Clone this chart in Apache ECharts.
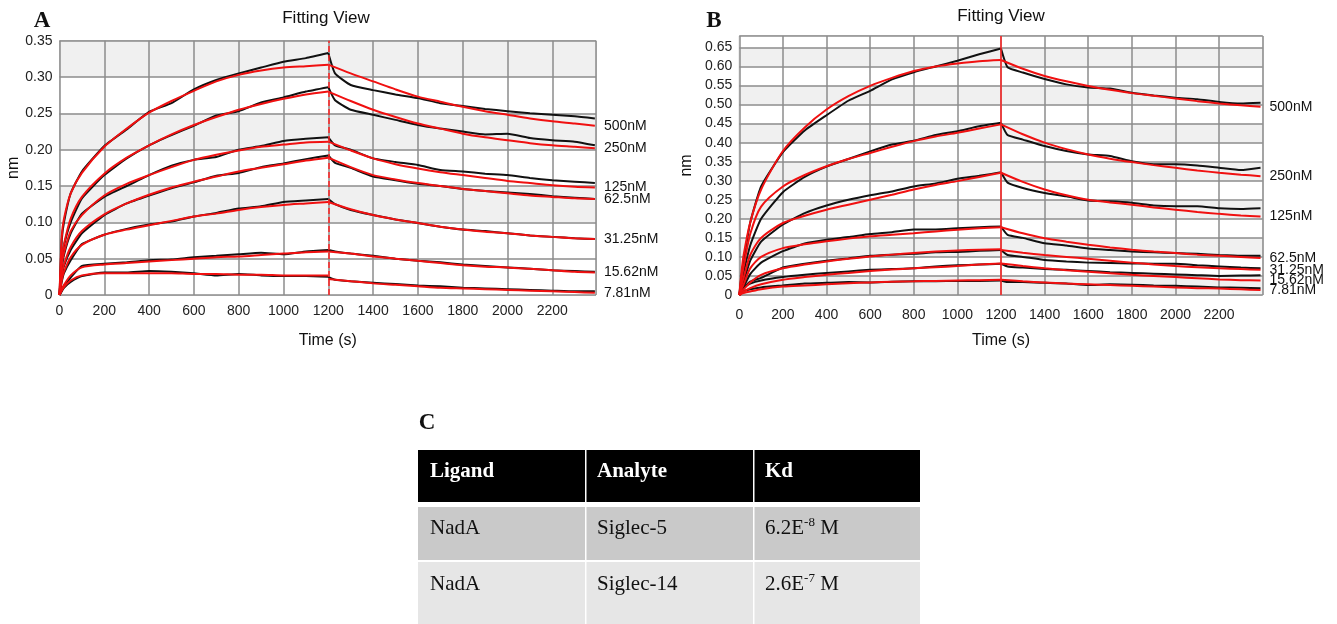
<!DOCTYPE html>
<html>
<head>
<meta charset="utf-8">
<script src="https://cdn.jsdelivr.net/npm/echarts@6/dist/echarts.min.js"></script>
<style>
  html, body { margin: 0; padding: 0; background: #fff; }
  #chart { width: 1337px; height: 624px; }
</style>
</head>
<body>
<div id="chart"></div>
<script>
// time grids (s)
const timeAssoc = [0, 10, 20, 50, 100, 200, 300, 400, 500, 600, 700, 800, 900, 1000, 1100, 1200];
const timeDissFit = [1200, 1300, 1400, 1500, 1600, 1700, 1800, 1900, 2000, 2100, 2200, 2300, 2390];
const timeDissRaw = [1200, 1230, 1300, 1400, 1500, 1600, 1700, 1800, 1900, 2000, 2100, 2200, 2300, 2390];

const concLabels = ['500nM', '250nM', '125nM', '62.5nM', '31.25nM', '15.62nM', '7.81nM'];

// panel A (nm)
const aRawAssoc = [
  [0, 0.075, 0.100, 0.140, 0.170, 0.205, 0.228, 0.252, 0.264, 0.283, 0.296, 0.305, 0.313, 0.321, 0.326, 0.333],
  [0, 0.045, 0.068, 0.100, 0.133, 0.165, 0.188, 0.206, 0.220, 0.233, 0.247, 0.253, 0.265, 0.272, 0.280, 0.286],
  [0, 0.035, 0.055, 0.085, 0.112, 0.135, 0.150, 0.165, 0.178, 0.186, 0.190, 0.200, 0.205, 0.212, 0.215, 0.217],
  [0, 0.025, 0.040, 0.062, 0.085, 0.110, 0.126, 0.137, 0.147, 0.155, 0.164, 0.168, 0.176, 0.181, 0.187, 0.192],
  [0, 0.018, 0.030, 0.048, 0.070, 0.083, 0.091, 0.097, 0.101, 0.108, 0.113, 0.119, 0.122, 0.128, 0.130, 0.132],
  [0, 0.006, 0.012, 0.024, 0.040, 0.043, 0.045, 0.048, 0.049, 0.052, 0.054, 0.056, 0.058, 0.056, 0.060, 0.062],
  [0, 0.005, 0.010, 0.018, 0.026, 0.031, 0.031, 0.033, 0.032, 0.030, 0.027, 0.029, 0.027, 0.026, 0.026, 0.025]
];
const aRawDiss = [
  [0.333, 0.305, 0.289, 0.282, 0.276, 0.271, 0.264, 0.260, 0.256, 0.253, 0.250, 0.248, 0.246, 0.243],
  [0.286, 0.268, 0.255, 0.248, 0.241, 0.234, 0.229, 0.225, 0.221, 0.222, 0.216, 0.213, 0.211, 0.206],
  [0.217, 0.206, 0.200, 0.188, 0.183, 0.179, 0.172, 0.170, 0.167, 0.165, 0.161, 0.158, 0.156, 0.154],
  [0.192, 0.182, 0.175, 0.163, 0.158, 0.153, 0.150, 0.146, 0.143, 0.141, 0.139, 0.136, 0.134, 0.132],
  [0.132, 0.125, 0.117, 0.110, 0.104, 0.099, 0.094, 0.090, 0.088, 0.085, 0.082, 0.080, 0.078, 0.077],
  [0.062, 0.060, 0.057, 0.054, 0.050, 0.047, 0.045, 0.042, 0.040, 0.038, 0.036, 0.034, 0.033, 0.032],
  [0.025, 0.021, 0.019, 0.017, 0.015, 0.013, 0.012, 0.010, 0.009, 0.008, 0.007, 0.006, 0.005, 0.005]
];
const aFitAssoc = [
  [0, 0.080, 0.105, 0.140, 0.168, 0.204, 0.229, 0.251, 0.267, 0.281, 0.294, 0.303, 0.309, 0.313, 0.315, 0.317],
  [0, 0.050, 0.070, 0.105, 0.135, 0.167, 0.189, 0.206, 0.221, 0.234, 0.245, 0.255, 0.263, 0.270, 0.276, 0.280],
  [0, 0.040, 0.058, 0.088, 0.110, 0.137, 0.153, 0.165, 0.176, 0.186, 0.193, 0.199, 0.204, 0.207, 0.210, 0.211],
  [0, 0.028, 0.042, 0.066, 0.088, 0.111, 0.126, 0.138, 0.148, 0.156, 0.163, 0.170, 0.175, 0.180, 0.185, 0.189],
  [0, 0.020, 0.032, 0.052, 0.069, 0.083, 0.090, 0.096, 0.102, 0.108, 0.112, 0.117, 0.121, 0.124, 0.126, 0.128],
  [0, 0.008, 0.014, 0.027, 0.038, 0.042, 0.044, 0.046, 0.048, 0.050, 0.052, 0.053, 0.055, 0.057, 0.059, 0.060],
  [0, 0.006, 0.011, 0.020, 0.027, 0.030, 0.030, 0.030, 0.030, 0.029, 0.029, 0.028, 0.028, 0.027, 0.027, 0.027]
];
const aFitDiss = [
  [0.317, 0.305, 0.294, 0.283, 0.273, 0.266, 0.259, 0.253, 0.248, 0.243, 0.239, 0.236, 0.233],
  [0.280, 0.267, 0.255, 0.245, 0.236, 0.229, 0.222, 0.217, 0.213, 0.209, 0.206, 0.204, 0.202],
  [0.211, 0.199, 0.188, 0.180, 0.174, 0.169, 0.165, 0.161, 0.157, 0.154, 0.151, 0.149, 0.148],
  [0.189, 0.176, 0.165, 0.159, 0.154, 0.150, 0.146, 0.143, 0.140, 0.137, 0.135, 0.133, 0.132],
  [0.128, 0.118, 0.110, 0.104, 0.099, 0.094, 0.090, 0.087, 0.085, 0.082, 0.080, 0.078, 0.077],
  [0.060, 0.057, 0.053, 0.050, 0.047, 0.044, 0.041, 0.039, 0.038, 0.036, 0.034, 0.032, 0.031],
  [0.022, 0.019, 0.016, 0.014, 0.012, 0.010, 0.009, 0.008, 0.007, 0.006, 0.005, 0.004, 0.003]
];

// panel B (nm)
const bRawAssoc = [
  [0, 0.050, 0.090, 0.190, 0.285, 0.375, 0.432, 0.472, 0.510, 0.536, 0.566, 0.585, 0.600, 0.615, 0.632, 0.647],
  [0, 0.030, 0.060, 0.130, 0.200, 0.270, 0.310, 0.337, 0.357, 0.377, 0.395, 0.405, 0.420, 0.430, 0.443, 0.452],
  [0, 0.020, 0.035, 0.090, 0.140, 0.185, 0.215, 0.235, 0.250, 0.262, 0.272, 0.285, 0.293, 0.305, 0.313, 0.322],
  [0, 0.012, 0.022, 0.055, 0.085, 0.115, 0.135, 0.145, 0.152, 0.160, 0.165, 0.172, 0.172, 0.175, 0.178, 0.180],
  [0, 0.010, 0.018, 0.035, 0.045, 0.072, 0.082, 0.090, 0.096, 0.103, 0.106, 0.108, 0.112, 0.113, 0.116, 0.118],
  [0, 0.010, 0.020, 0.030, 0.038, 0.047, 0.053, 0.058, 0.062, 0.066, 0.068, 0.070, 0.075, 0.078, 0.080, 0.082],
  [0, 0.005, 0.010, 0.015, 0.020, 0.025, 0.030, 0.032, 0.034, 0.033, 0.035, 0.036, 0.036, 0.037, 0.037, 0.038]
];
const bRawDiss = [
  [0.647, 0.598, 0.584, 0.567, 0.553, 0.545, 0.542, 0.531, 0.524, 0.518, 0.514, 0.507, 0.503, 0.505],
  [0.452, 0.420, 0.408, 0.391, 0.378, 0.369, 0.365, 0.351, 0.343, 0.343, 0.340, 0.334, 0.328, 0.334],
  [0.322, 0.295, 0.281, 0.268, 0.259, 0.248, 0.246, 0.242, 0.235, 0.233, 0.233, 0.228, 0.226, 0.228],
  [0.180, 0.158, 0.150, 0.136, 0.130, 0.122, 0.118, 0.114, 0.112, 0.110, 0.108, 0.105, 0.103, 0.103],
  [0.118, 0.105, 0.100, 0.092, 0.088, 0.085, 0.084, 0.083, 0.082, 0.082, 0.078, 0.075, 0.072, 0.070],
  [0.082, 0.075, 0.072, 0.068, 0.066, 0.063, 0.060, 0.058, 0.056, 0.054, 0.052, 0.050, 0.051, 0.052],
  [0.038, 0.034, 0.034, 0.032, 0.030, 0.026, 0.028, 0.027, 0.025, 0.024, 0.022, 0.020, 0.019, 0.018]
];
const bFitAssoc = [
  [0, 0.060, 0.105, 0.190, 0.277, 0.378, 0.440, 0.487, 0.522, 0.549, 0.570, 0.588, 0.600, 0.608, 0.614, 0.617],
  [0, 0.040, 0.075, 0.160, 0.232, 0.285, 0.315, 0.338, 0.357, 0.373, 0.389, 0.404, 0.416, 0.426, 0.437, 0.448],
  [0, 0.025, 0.045, 0.105, 0.150, 0.189, 0.208, 0.224, 0.237, 0.250, 0.263, 0.277, 0.289, 0.299, 0.310, 0.321],
  [0, 0.015, 0.028, 0.070, 0.100, 0.123, 0.133, 0.141, 0.148, 0.154, 0.158, 0.162, 0.167, 0.171, 0.175, 0.178],
  [0, 0.008, 0.015, 0.033, 0.053, 0.070, 0.080, 0.088, 0.095, 0.101, 0.106, 0.110, 0.114, 0.117, 0.119, 0.120],
  [0, 0.005, 0.009, 0.018, 0.028, 0.040, 0.047, 0.053, 0.058, 0.063, 0.067, 0.070, 0.073, 0.076, 0.080, 0.083],
  [0, 0.003, 0.005, 0.009, 0.015, 0.022, 0.025, 0.028, 0.031, 0.033, 0.035, 0.036, 0.037, 0.038, 0.039, 0.040]
];
const bFitDiss = [
  [0.617, 0.594, 0.575, 0.561, 0.549, 0.539, 0.530, 0.523, 0.516, 0.509, 0.503, 0.498, 0.494],
  [0.448, 0.422, 0.400, 0.383, 0.369, 0.358, 0.349, 0.341, 0.334, 0.327, 0.321, 0.316, 0.312],
  [0.321, 0.297, 0.277, 0.262, 0.250, 0.243, 0.237, 0.230, 0.224, 0.218, 0.213, 0.209, 0.206],
  [0.178, 0.162, 0.149, 0.140, 0.132, 0.125, 0.119, 0.114, 0.110, 0.106, 0.103, 0.100, 0.097],
  [0.118, 0.111, 0.105, 0.100, 0.095, 0.090, 0.085, 0.080, 0.076, 0.073, 0.070, 0.068, 0.066],
  [0.083, 0.076, 0.070, 0.065, 0.061, 0.057, 0.053, 0.050, 0.047, 0.044, 0.041, 0.039, 0.038],
  [0.040, 0.036, 0.033, 0.030, 0.028, 0.026, 0.024, 0.022, 0.020, 0.018, 0.017, 0.015, 0.013]
];

// table C
const tableHeader = ['Ligand', 'Analyte', 'Kd'];
const ligands = ['NadA', 'NadA'];
const analytes = ['Siglec-5', 'Siglec-14'];
const kdMantissa = ['6.2E', '2.6E'];
const kdExponent = ['-8', '-7'];

const sans = 'Liberation Sans, Arial, sans-serif';
const serif = 'Liberation Serif, Times New Roman, serif';

const chart = echarts.init(document.getElementById('chart'));

function pairs(times, vals) {
  return times.map((t, i) => [t, vals[i]]);
}

function line(idx, times, vals, color, extra) {
  return Object.assign({
    type: 'line',
    xAxisIndex: idx,
    yAxisIndex: idx,
    data: pairs(times, vals),
    symbol: 'none',
    showSymbol: false,
    silent: true,
    smooth: 0.25,
    lineStyle: { color: color, width: 2 },
    itemStyle: { color: color }
  }, extra || {});
}

function panelSeries(idx, rawA, rawD, fitA, fitD, dashType) {
  const out = [];
  for (let i = 0; i < concLabels.length; i++) {
    out.push(line(idx, timeAssoc, rawA[i], '#111', { smooth: 0.15 }));
    out.push(line(idx, timeDissRaw, rawD[i], '#111', { smooth: 0.15 }));
  }
  for (let i = 0; i < concLabels.length; i++) {
    const a = line(idx, timeAssoc, fitA[i], '#f01010');
    if (i === 0) {
      a.markLine = {
        silent: true,
        symbol: ['none', 'none'],
        label: { show: false },
        lineStyle: { color: '#ff2020', type: dashType, width: 1.5 },
        data: [{ xAxis: 1200 }]
      };
    }
    out.push(a);
    out.push(line(idx, timeDissFit, fitD[i], '#f01010', {
      endLabel: {
        show: true,
        formatter: concLabels[i],
        distance: 9,
        color: '#111',
        fontSize: 14,
        fontFamily: sans
      }
    }));
  }
  return out;
}

function xAx(idx, max, margin) {
  return {
    type: 'value', gridIndex: idx, min: 0, max: max, interval: 200,
    name: 'Time (s)', nameLocation: 'middle', nameGap: 38,
    nameTextStyle: { fontSize: 16, color: '#111', fontFamily: sans },
    axisLine: { show: false }, axisTick: { show: false },
    axisLabel: { fontSize: 14, color: '#222', fontFamily: sans, margin: margin, showMaxLabel: false, formatter: v => String(v) },
    splitLine: { show: true, lineStyle: { color: '#8c8c8c', width: 1.5 } }
  };
}

function yAx(idx, max, gap, areaColors) {
  return {
    type: 'value', gridIndex: idx, min: 0, max: max, interval: 0.05,
    name: 'nm', nameLocation: 'middle', nameGap: gap, nameRotate: 90,
    nameTextStyle: { fontSize: 16, color: '#111', fontFamily: sans },
    axisLine: { show: false }, axisTick: { show: false },
    axisLabel: {
      fontSize: 14, color: '#222', fontFamily: sans, margin: 7, showMaxLabel: max === 0.35,
      formatter: v => (v === 0 ? '0' : v.toFixed(2))
    },
    splitLine: { show: true, lineStyle: { color: '#8c8c8c', width: 1.5 } },
    splitArea: { show: true, areaStyle: { color: areaColors } }
  };
}

// table graphics
const colX = [418, 585, 753, 920];
const rowY = [450, 507, 562];
const rowH = [52, 53, 62];
const rowFill = ['#000', '#c9c9c9', '#e6e6e6'];
const tableGraphic = [];
for (let r = 0; r < 3; r++) {
  for (let c = 0; c < 3; c++) {
    tableGraphic.push({
      type: 'rect',
      shape: { x: colX[c] + (c ? 1.5 : 0), y: rowY[r], width: colX[c + 1] - colX[c] - (c ? 1.5 : 0), height: rowH[r] },
      style: { fill: rowFill[r] }
    });
  }
}
tableHeader.forEach((h, c) => {
  tableGraphic.push({
    type: 'text', x: colX[c] + 12, y: rowY[0] + 22,
    style: { text: h, fill: '#fff', font: 'bold 21px ' + serif, textVerticalAlign: 'middle' }
  });
});
for (let r = 0; r < 2; r++) {
  const cy = [528, 584][r];
  [ligands[r], analytes[r]].forEach((t, c) => {
    tableGraphic.push({
      type: 'text', x: colX[c] + 12, y: cy,
      style: { text: t, fill: '#111', font: '21px ' + serif, textVerticalAlign: 'middle' }
    });
  });
  tableGraphic.push({
    type: 'text', x: colX[2] + 12, y: cy,
    style: {
      text: '{m|' + kdMantissa[r] + '}{e|' + kdExponent[r] + '}{m| M}',
      fill: '#111', textVerticalAlign: 'middle',
      rich: {
        m: { fontSize: 21, fontFamily: serif, color: '#111', lineHeight: 24 },
        e: { fontSize: 13, fontFamily: serif, color: '#111', lineHeight: 24, verticalAlign: 'top', padding: [0, 0, 8, 0] }
      }
    }
  });
}

const option = {
  animation: false,
  grid: [
    { left: 59.5, top: 40.7, width: 536.5, height: 254.3, show: true, borderColor: '#aaa', borderWidth: 1, backgroundColor: '#fff' },
    { left: 739.3, top: 36, width: 523.4, height: 259, show: true, borderColor: '#aaa', borderWidth: 1, backgroundColor: '#fff' }
  ],
  xAxis: [xAx(0, 2395, 9), xAx(1, 2400, 13)],
  yAxis: [
    yAx(0, 0.35, 24, ['#fff', '#fff', '#f0f0f0', '#fff', '#f0f0f0', '#fff', '#f0f0f0']),
    yAx(1, 0.68, 45, ['#f0f0f0', '#fff'])
  ],
  series: panelSeries(0, aRawAssoc, aRawDiss, aFitAssoc, aFitDiss, 'dashed')
    .concat(panelSeries(1, bRawAssoc, bRawDiss, bFitAssoc, bFitDiss, 'solid')),
  graphic: [
    { type: 'text', x: 42, y: 21, style: { text: 'A', font: 'bold 23px ' + serif, fill: '#111', textAlign: 'center', textVerticalAlign: 'middle' } },
    { type: 'text', x: 714, y: 21, style: { text: 'B', font: 'bold 23px ' + serif, fill: '#111', textAlign: 'center', textVerticalAlign: 'middle' } },
    { type: 'text', x: 427, y: 423, style: { text: 'C', font: 'bold 23px ' + serif, fill: '#111', textAlign: 'center', textVerticalAlign: 'middle' } },
    { type: 'text', x: 326, y: 18, style: { text: 'Fitting View', font: '17px ' + sans, fill: '#111', textAlign: 'center', textVerticalAlign: 'middle' } },
    { type: 'text', x: 1001, y: 16, style: { text: 'Fitting View', font: '17px ' + sans, fill: '#111', textAlign: 'center', textVerticalAlign: 'middle' } }
  ].concat(tableGraphic)
};

chart.setOption(option);
</script>
</body>
</html>
